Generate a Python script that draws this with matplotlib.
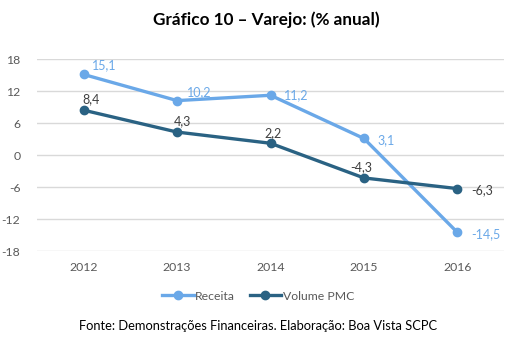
import matplotlib
matplotlib.use("Agg")
import matplotlib.pyplot as plt

years = ["2012", "2013", "2014", "2015", "2016"]
receita = [15.1, 10.2, 11.2, 3.1, -14.5]
volume = [8.4, 4.3, 2.2, -4.3, -6.3]
yticks = [-18, -12, -6, 0, 6, 12, 18]

plt.rcParams['font.family'] = ['Lato', 'DejaVu Sans']

c_rec = "#6AA8E8"
c_vol = "#2A6283"

fig = plt.figure(figsize=(5.32, 3.61), dpi=100)
ax = fig.add_axes([37/532, 1-251/361, (504-37)/532, (251-59)/361])
x = list(range(len(years)))
ax.plot(x, receita, color=c_rec, lw=2.4, marker='o', ms=6, label="Receita", zorder=3)
ax.plot(x, volume, color=c_vol, lw=2.4, marker='o', ms=6, label="Volume PMC", zorder=3)

def fmt(v):
    return f"{v:.1f}".replace(".", ",")

rec_off = [(6, 7, 'left'), (7, 6, 'left'), (10, 0, 'left'), (10, -1, 'left'), (10, -1, 'left')]
vol_off = [(5, 8, 'center'), (4, 8, 'center'), (2, 7, 'center'), (-2, 8, 'center'), (10, -1, 'left')]
for i, v in enumerate(receita):
    dx, dy, ha = rec_off[i]
    ax.annotate(fmt(v), (i, v), xytext=(dx, dy), textcoords='offset points',
                color=c_rec, fontsize=9, ha=ha, va='center')
for i, v in enumerate(volume):
    dx, dy, ha = vol_off[i]
    ax.annotate(fmt(v), (i, v), xytext=(dx, dy), textcoords='offset points',
                color="#404040", fontsize=9, ha=ha, va='center')

ax.set_xlim(-0.5, len(years) - 0.5)
ax.set_ylim(-18, 18)
ax.set_yticks(yticks)
ax.set_yticklabels([str(t) for t in yticks])
ax.set_xticks(x)
ax.set_xticklabels(years)
ax.grid(axis='y', color="#D9D9D9", lw=1)
ax.set_axisbelow(True)
for s in ax.spines.values():
    s.set_visible(False)
ax.tick_params(length=0, colors="#595959", labelsize=8.8)
ax.tick_params(axis='y', pad=12)
ax.tick_params(axis='x', pad=8)

fig.text(266/532, 1-20/361, "Gráfico 10 – Varejo: (% anual)", ha='center', va='center',
         fontsize=12.3, fontweight='bold', color='black')
fig.legend(loc='center', bbox_to_anchor=(258/532, 1-296/361), ncol=2, frameon=False,
           fontsize=8.8, labelcolor="#595959", handlelength=2.6, handletextpad=0.1,
           columnspacing=1.2)
fig.text(258/532, 1-326/361, "Fonte: Demonstrações Financeiras. Elaboração: Boa Vista SCPC",
         ha='center', va='center', fontsize=9.3, color='black')
fig.savefig("out.png", dpi=100)
